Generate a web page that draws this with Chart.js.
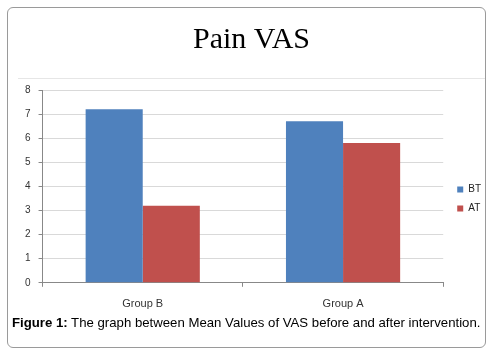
<!DOCTYPE html>
<html>
<head>
<meta charset="utf-8">
<script src="https://cdn.jsdelivr.net/npm/chart.js@4"></script>
<style>
  html, body { margin:0; padding:0; background:#fff; }
  body { width:490px; height:355px; position:relative; overflow:hidden; }
  #frame { position:absolute; left:7px; top:7px; width:479px; height:341px; border:1px solid #9a9a9a; border-radius:6px; box-sizing:border-box; }
  #sep { position:absolute; left:18px; top:78px; width:467px; height:1px; background:#e6e6e6; }
  #wrap { position:absolute; left:0; top:0; width:490px; height:322px; }
  #caption { position:absolute; left:12px; top:315px; font-family:"Liberation Sans", Arial, sans-serif; font-size:13.2px; color:#000; white-space:nowrap; }
</style>
</head>
<body>
<div id="frame"></div>
<div id="sep"></div>
<div id="wrap"><canvas id="c"></canvas></div>
<div id="caption"><b>Figure 1:</b> The graph between Mean Values of VAS before and after intervention.</div>
<script>
const categories = ["Group B", "Group A"];
const btValues = [7.2, 6.7];
const atValues = [3.2, 5.8];
const seriesNames = ["BT", "AT"];
const yTicks = [0, 1, 2, 3, 4, 5, 6, 7, 8];

const legendShift = {
  id: 'legendShift',
  afterLayout(chart) {
    const lg = chart.legend;
    if (!lg) return;
    lg.top += 38; lg.bottom += 38;
    lg.left += 5; lg.right += 5;
  }
};

new Chart(document.getElementById('c'), {
  type: 'bar',
  data: {
    labels: categories,
    datasets: [
      { label: seriesNames[0], data: btValues, backgroundColor: '#4f81bd', borderWidth: 0 },
      { label: seriesNames[1], data: atValues, backgroundColor: '#c0504d', borderWidth: 0 }
    ]
  },
  options: {
    responsive: true,
    maintainAspectRatio: false,
    animation: false,
    devicePixelRatio: 1,
    layout: { padding: { left: 17, right: 4, top: 0, bottom: 0 } },
    datasets: { bar: { categoryPercentage: 0.57, barPercentage: 1.0 } },
    plugins: {
      title: {
        display: true,
        text: 'Pain VAS',
        color: '#000',
        font: { family: '"Liberation Serif", "DejaVu Serif", serif', size: 30, weight: 'normal' },
        padding: { top: 22, bottom: 32 }
      },
      legend: {
        position: 'right',
        labels: {
          boxWidth: 6, boxHeight: 6, padding: 9,
          color: '#222',
          font: { family: '"Liberation Sans", Arial, sans-serif', size: 10 }
        }
      },
      tooltip: { enabled: false }
    },
    scales: {
      x: {
        grid: { drawOnChartArea: false, drawTicks: true, tickLength: 4, color: '#888', offset: true },
        border: { color: '#888' },
        ticks: { color: '#333', font: { family: '"Liberation Sans", Arial, sans-serif', size: 11 }, padding: 11 }
      },
      y: {
        min: 0, max: 8,
        afterBuildTicks: (s) => { s.ticks = yTicks.map(v => ({ value: v })); },
        grid: { color: '#d9d9d9', tickLength: 4, tickColor: '#888' },
        border: { color: '#888' },
        ticks: { color: '#333', font: { family: '"Liberation Sans", Arial, sans-serif', size: 10 }, padding: 8 }
      }
    }
  },
  plugins: [legendShift]
});
</script>
</body>
</html>
